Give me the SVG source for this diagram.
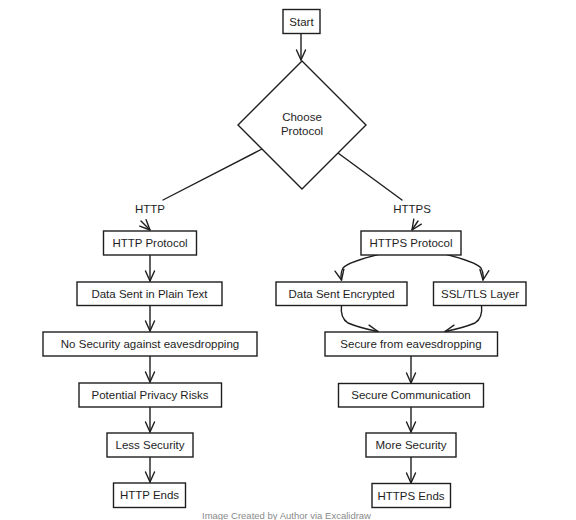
<svg xmlns="http://www.w3.org/2000/svg" width="576" height="520" viewBox="0 0 576 520">
<style>
.box{fill:#ffffff;stroke:#1e1e1e;stroke-width:1.4}
.t{font-family:"Liberation Sans",Arial,sans-serif;font-size:11.5px;fill:#1e1e1e;text-anchor:middle;dominant-baseline:central}
.c{fill:none;stroke:#1e1e1e;stroke-width:1.4;stroke-linecap:round;stroke-linejoin:round}
.a{marker-end:url(#arr)}
.foot{font-family:"Liberation Sans",Arial,sans-serif;font-size:9.5px;fill:#8a8a8a;text-anchor:middle;dominant-baseline:central}
</style>
<defs>
<marker id="arr" markerUnits="userSpaceOnUse" markerWidth="14" markerHeight="14" viewBox="-12 -7 14 14" refX="0" refY="0" orient="auto">
<path d="M-10,-4.5 L0,0 L-10,4.5" fill="none" stroke="#1e1e1e" stroke-width="1.4" stroke-linecap="round" stroke-linejoin="round"/>
</marker>
</defs>
<rect width="576" height="520" fill="#ffffff"/>
<g id="connectors">
<path class="c a" d="M301,34 L301,60"/>
<path class="c" d="M262,149 L163,200"/>
<path class="c a" d="M141,221 L150,230"/>
<path class="c" d="M338,153 L402,200"/>
<path class="c a" d="M418,221 L412,230"/>
<path class="c a" d="M150,255 L150,281"/>
<path class="c a" d="M150,305 L150,331"/>
<path class="c a" d="M150,356 L150,382"/>
<path class="c a" d="M150,407 L150,432"/>
<path class="c a" d="M150,457 L150,482"/>
<path class="c a" d="M380,254 Q348,262 343,268 Q340,273 341.5,280"/>
<path class="c a" d="M445,254 Q476,262 481,268 Q484,273 483,280"/>
<path class="c a" d="M341.5,305 Q340,318 348,323 Q360,328 378,331.5"/>
<path class="c a" d="M481.5,305 Q483,318 475,323 Q463,328 445,331.5"/>
<path class="c a" d="M411,356 L411,383"/>
<path class="c a" d="M411,407 L411,432"/>
<path class="c a" d="M411,457 L411,483"/>
</g>
<g id="start"><rect class="box" x="283" y="9.5" width="37" height="24"/><text class="t" x="301.5" y="21.5">Start</text></g>
<g id="choose"><polygon class="box" points="302,61 366,125 302,189 238,125"/><text class="t" x="302" y="117">Choose</text><text class="t" x="302" y="131">Protocol</text></g>
<g id="label-http"><text class="t" x="150" y="209">HTTP</text></g>
<g id="label-https"><text class="t" x="412" y="209">HTTPS</text></g>
<g id="http-protocol"><rect class="box" x="103.5" y="231" width="93" height="24"/><text class="t" x="150" y="243">HTTP Protocol</text></g>
<g id="plain-text"><rect class="box" x="77" y="282" width="145" height="23.5"/><text class="t" x="149.5" y="294">Data Sent in Plain Text</text></g>
<g id="no-security"><rect class="box" x="43" y="332" width="214" height="24"/><text class="t" x="150" y="344">No Security against eavesdropping</text></g>
<g id="privacy-risks"><rect class="box" x="79" y="383" width="142.5" height="24"/><text class="t" x="150" y="395">Potential Privacy Risks</text></g>
<g id="less-security"><rect class="box" x="107" y="433" width="86" height="24"/><text class="t" x="150" y="445">Less Security</text></g>
<g id="http-ends"><rect class="box" x="113.5" y="483" width="72" height="24.5"/><text class="t" x="149.5" y="495">HTTP Ends</text></g>
<g id="https-protocol"><rect class="box" x="361" y="231" width="100" height="24"/><text class="t" x="411" y="243">HTTPS Protocol</text></g>
<g id="encrypted"><rect class="box" x="276" y="282" width="131" height="23.5"/><text class="t" x="341.5" y="294">Data Sent Encrypted</text></g>
<g id="ssl-tls"><rect class="box" x="433.5" y="282" width="92.5" height="23.5"/><text class="t" x="480" y="294">SSL/TLS Layer</text></g>
<g id="secure-from"><rect class="box" x="325" y="332" width="172.5" height="24"/><text class="t" x="411" y="344">Secure from eavesdropping</text></g>
<g id="secure-comm"><rect class="box" x="338.5" y="383.5" width="145" height="23.5"/><text class="t" x="411" y="395">Secure Communication</text></g>
<g id="more-security"><rect class="box" x="366" y="433" width="90" height="24"/><text class="t" x="411" y="445">More Security</text></g>
<g id="https-ends"><rect class="box" x="372" y="483.5" width="78.5" height="24"/><text class="t" x="411" y="495.5">HTTPS Ends</text></g>
<g id="footer"><text class="foot" x="286.5" y="515">Image Created by Author via Excalidraw</text></g>
</svg>
